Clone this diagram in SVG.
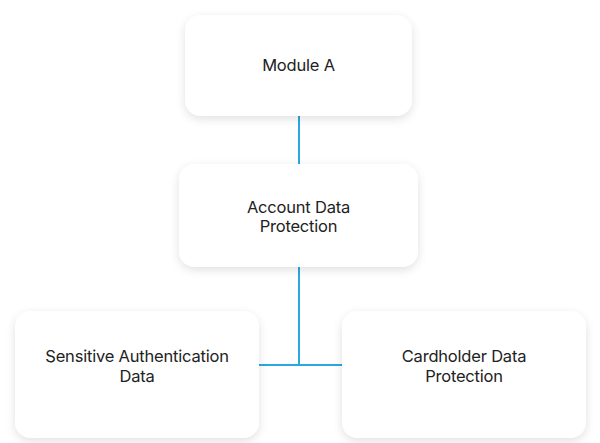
<svg xmlns="http://www.w3.org/2000/svg" width="600" height="443" viewBox="0 0 600 443">
<defs>
<filter id="sh" x="-20%" y="-20%" width="140%" height="150%"><feDropShadow dx="0" dy="3" stdDeviation="5" flood-color="#000" flood-opacity="0.12"/></filter>
<style>
.box{fill:#fff;filter:url(#sh)}
.t{font-family:Inter,"Liberation Sans",sans-serif;font-size:16.5px;fill:#222;text-anchor:middle;letter-spacing:-0.2px}
.c{stroke:#2aa8e0;stroke-width:2;fill:none}
</style>
</defs>
<rect width="600" height="443" fill="#fff"/>
<g id="connectors">
<line class="c" x1="299" y1="116" x2="299" y2="164"/>
<line class="c" x1="299" y1="267" x2="299" y2="365"/>
<line class="c" x1="259" y1="365" x2="342" y2="365"/>
</g>
<g id="moduleA"><rect class="box" x="185" y="15" width="227" height="101" rx="16"/><text class="t" x="298.5" y="71">Module A</text></g>
<g id="account"><rect class="box" x="179" y="164" width="239" height="103" rx="16"/><text class="t" x="298.5" y="213">Account Data</text><text class="t" x="298.5" y="232">Protection</text></g>
<g id="sensitive"><rect class="box" x="15" y="311" width="244" height="127" rx="16"/><text class="t" x="137" y="362">Sensitive Authentication</text><text class="t" x="137" y="382">Data</text></g>
<g id="cardholder"><rect class="box" x="342" y="311" width="244" height="127" rx="16"/><text class="t" x="464" y="362">Cardholder Data</text><text class="t" x="464" y="382">Protection</text></g>
</svg>
